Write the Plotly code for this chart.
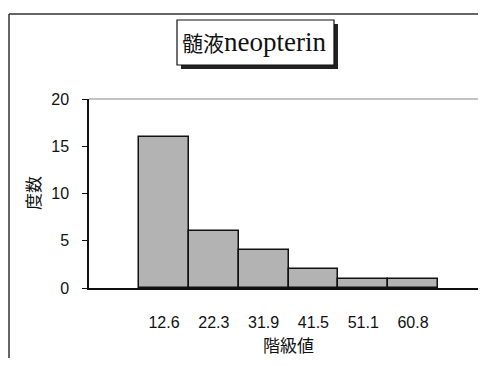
import plotly.graph_objects as go

# Data
class_values = ["12.6", "22.3", "31.9", "41.5", "51.1", "60.8"]
frequencies = [16, 6, 4, 2, 1, 1]
y_ticks = [0, 5, 10, 15, 20]

OFF = 8  # page body margin
W, H = 486 - 2 * OFF, 366 - 2 * OFF
L, T, B = 89, 99, 288  # plot area pixel bounds (page coords)
R = W + OFF


def px(x):
    return (x - L) / (R - L)


def py(y):
    return (B - y) / (B - T)


xs = list(range(len(class_values)))

fig = go.Figure()
fig.add_trace(go.Bar(
    x=xs, y=frequencies, width=1.0,
    marker=dict(color="#b3b3b3", line=dict(color="#111111", width=1.5)),
    hoverinfo="skip",
))

unit = 49.8
x0 = -(164 - L) / unit
x1 = x0 + (R - L) / unit

fig.update_layout(
    width=W, height=H,
    margin=dict(l=L - OFF, r=0, t=T - OFF, b=H + OFF - B),
    paper_bgcolor="white", plot_bgcolor="white",
    showlegend=False,
    bargap=0,
    font=dict(family="Liberation Sans, Arial, sans-serif", size=16, color="#111111"),
    xaxis=dict(
        range=[x0, x1], tickvals=xs, ticktext=class_values,
        showgrid=False, zeroline=False,
        showline=True, linecolor="#111111", linewidth=1.5,
        ticks="outside", ticklen=19, tickcolor="rgba(0,0,0,0)",
        tickfont=dict(size=16),
    ),
    yaxis=dict(
        range=[0, 20], tickvals=y_ticks,
        showgrid=False, zeroline=False,
        showline=True, linecolor="#111111", linewidth=1.5,
        ticks="outside", ticklen=5, tickcolor="#111111", tickwidth=1,
        ticklabelstandoff=10,
        tickfont=dict(size=16),
    ),
)

shapes = []
# plot-area top border (grey)
shapes.append(dict(type="line", xref="paper", yref="paper", x0=0, x1=1, y0=1, y1=1,
                   line=dict(color="#888888", width=1.2)))
# outer chart frame (left + top)
shapes.append(dict(type="line", xref="paper", yref="paper", x0=px(9), x1=px(9), y0=py(14), y1=py(366),
                   line=dict(color="#333333", width=1.5)))
shapes.append(dict(type="line", xref="paper", yref="paper", x0=px(9), x1=1, y0=py(14), y1=py(14),
                   line=dict(color="#333333", width=1.5)))
# title box shadow + box
shapes.append(dict(type="rect", xref="paper", yref="paper", x0=px(181), x1=px(338), y0=py(24), y1=py(69),
                   fillcolor="#222222", line=dict(width=0)))
shapes.append(dict(type="rect", xref="paper", yref="paper", x0=px(177), x1=px(334), y0=py(20), y1=py(65),
                   fillcolor="white", line=dict(color="#111111", width=1.2)))
fig.update_layout(shapes=shapes)

annotations = [
    dict(text="<span style='font-family:Noto Sans CJK JP;font-size:21px'>髄液</span>neopterin",
         xref="paper", yref="paper", x=px(254), y=py(42), xanchor="center", yanchor="middle",
         showarrow=False, font=dict(family="Liberation Serif, serif", size=27, color="#111111")),
    dict(text="階級値", xref="paper", yref="paper", x=px(288), y=py(344),
         xanchor="center", yanchor="middle", showarrow=False,
         font=dict(family="Noto Sans CJK JP", size=17, color="#111111")),
    dict(text="度数", xref="paper", yref="paper", x=px(32), y=py(193),
         xanchor="center", yanchor="middle", showarrow=False, textangle=-90,
         font=dict(family="Noto Sans CJK JP", size=17, color="#111111")),
]
fig.update_layout(annotations=annotations)

fig.write_html("out.html")
